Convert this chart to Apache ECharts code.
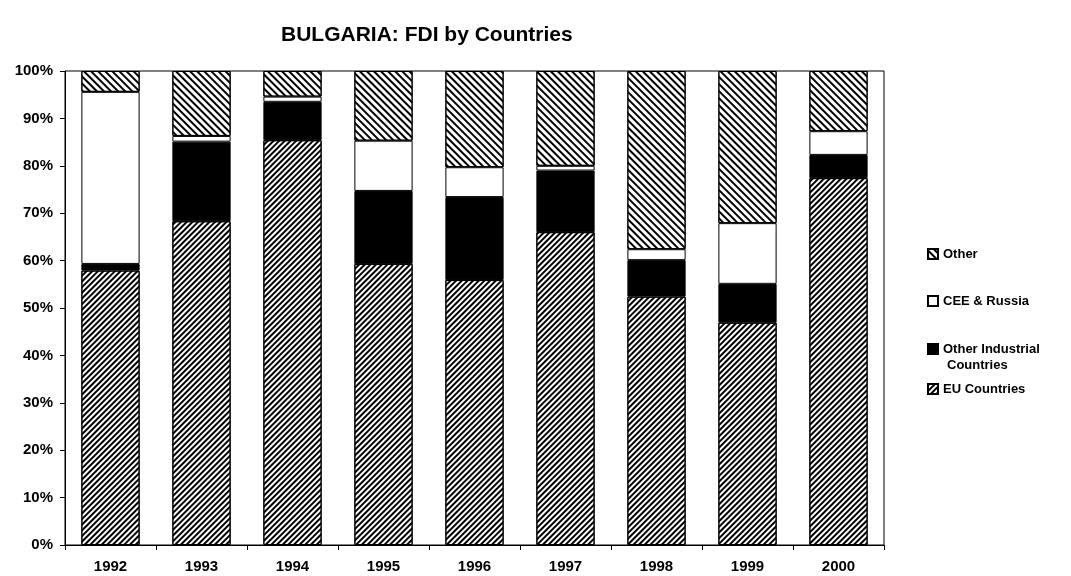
<!DOCTYPE html>
<html>
<head>
<meta charset="utf-8">
<script src="https://cdn.jsdelivr.net/npm/echarts@6/dist/echarts.min.js"></script>
<style>
  html, body { margin: 0; padding: 0; background: #fff; }
  #chart { width: 1071px; height: 576px; }
</style>
</head>
<body>
<div id="chart"></div>
<script>
const years = ['1992', '1993', '1994', '1995', '1996', '1997', '1998', '1999', '2000'];

// shares in percent
const euCountries = [57.9, 68.3, 85.4, 59.3, 55.9, 66.0, 52.4, 46.9, 77.4];
const otherIndustrial = [1.4, 16.8, 8.1, 15.4, 17.5, 13.0, 7.7, 8.2, 4.9];
const ceeRussia = [36.3, 1.2, 1.1, 10.6, 6.3, 1.0, 2.3, 12.8, 5.0];
const other = [4.4, 13.7, 5.4, 14.7, 20.3, 20.0, 37.6, 32.1, 12.7];

const font = 'Liberation Sans, Arial, sans-serif';

const chart = echarts.init(document.getElementById('chart'));

function legendFor(name, top, label) {
  return {
    data: [{ name: name, icon: 'rect' }],
    orient: 'vertical',
    left: 927,
    top: top,
    itemWidth: 10,
    itemHeight: 10,
    itemGap: 0,
    padding: 0,
    selectedMode: false,
    formatter: () => label || name,
    textStyle: { fontFamily: font, fontWeight: 'bold', fontSize: 13, color: '#000', lineHeight: 16 }
  };
}

const bar = (name, data, color, decal) => {
  const itemStyle = { color: color, borderColor: '#000', borderWidth: 1 };
  if (decal) itemStyle.decal = decal;
  return {
    name: name,
    type: 'bar',
    stack: 'total',
    barCategoryGap: '36%',
    data: data,
    itemStyle: itemStyle
  };
};

chart.setOption({
  animation: false,
  title: {
    text: 'BULGARIA: FDI by Countries',
    left: 276,
    top: 20,
    textStyle: { fontFamily: font, fontWeight: 'bold', fontSize: 21, color: '#000' }
  },
  legend: [
    legendFor('Other', 246),
    legendFor('CEE & Russia', 293),
    legendFor('Other Industrial Countries', 341, 'Other Industrial'),
    legendFor('EU Countries', 381)
  ],
  // second line of the wrapped legend label
  graphic: [{
    type: 'text',
    left: 947,
    top: 359,
    style: { text: 'Countries', fill: '#000', font: 'bold 13px ' + font }
  }],
  grid: {
    left: 65,
    right: 187,
    top: 71,
    bottom: 31,
    show: true,
    borderColor: '#000',
    borderWidth: 1
  },
  xAxis: {
    type: 'category',
    data: years,
    axisLine: { lineStyle: { color: '#000', width: 1 } },
    axisTick: { show: true, length: 5, lineStyle: { color: '#000' } },
    axisLabel: { margin: 14, color: '#000', fontFamily: font, fontWeight: 'bold', fontSize: 15 }
  },
  yAxis: {
    type: 'value',
    min: 0,
    max: 100,
    interval: 10,
    axisLine: { show: true, lineStyle: { color: '#000', width: 1 } },
    axisTick: { show: true, length: 5, lineStyle: { color: '#000' } },
    splitLine: { show: false },
    axisLabel: {
      formatter: '{value}%',
      margin: 12,
      color: '#000',
      fontFamily: font,
      fontWeight: 'bold',
      fontSize: 15
    }
  },
  series: [
    bar('EU Countries', euCountries, '#fff', {
      symbol: 'rect', color: '#000', dashArrayX: [1, 0], dashArrayY: [1.3, 1.4], rotation: -Math.PI / 4, symbolSize: 1
    }),
    bar('Other Industrial Countries', otherIndustrial, '#000', null),
    bar('CEE & Russia', ceeRussia, '#fff', null),
    bar('Other', other, '#fff', {
      symbol: 'rect', color: '#000', dashArrayX: [1, 0], dashArrayY: [2, 2.2], rotation: Math.PI / 4, symbolSize: 1
    })
  ]
});
</script>
</body>
</html>
